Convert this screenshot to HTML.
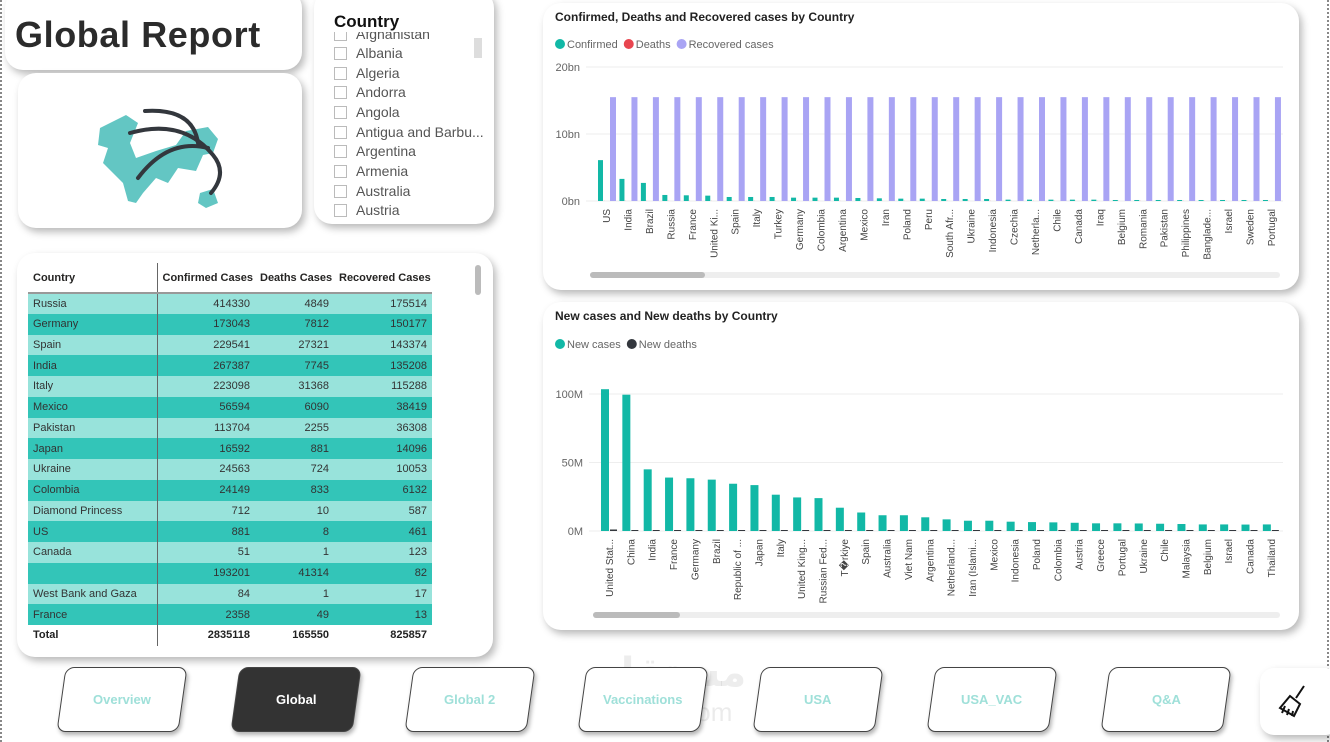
<!DOCTYPE html>
<html><head><meta charset="utf-8"><style>
*{margin:0;padding:0;box-sizing:border-box}
body{width:1330px;height:742px;background:#fff;position:relative;overflow:hidden;font-family:"Liberation Sans",sans-serif;color:#252423}
.edge{position:absolute;top:0;bottom:0;width:2px;border-left:2px dotted #888}
.card{position:absolute;background:#fff;border-radius:18px;box-shadow:3px 4px 8px rgba(0,0,0,.28)}
.sl{position:absolute;left:20px;font-size:14px;color:#555;height:20px;line-height:20px}
.sl i{display:inline-block;width:13px;height:13px;border:1px solid #bbb;vertical-align:-2px;margin-right:9px}
table{border-collapse:collapse;font-size:11px;position:absolute;left:11px;top:10px;width:404px;table-layout:fixed}
td,th{height:20.75px;padding:0 5px;white-space:nowrap;overflow:hidden}
th{font-weight:bold;text-align:right;height:30px;vertical-align:middle;border-bottom:2px solid #999}
th:first-child,td:first-child{text-align:left;border-right:1px solid #666}
tr.l td{background:#98e3db}tr.d td{background:#33c5b8}
td{text-align:right;color:#333}
tr.t td{font-weight:bold;background:#fff;color:#222}
.nav{position:absolute;top:667px;width:122px;height:65px;transform:skewX(-8deg);border:1px solid #444;border-radius:9px;background:#fff;box-shadow:2px 3px 4px rgba(0,0,0,.3);display:flex;align-items:center;justify-content:center}
.nav span{transform:skewX(8deg);font-weight:bold;font-size:13px;color:#9fe0d9}
.nav.on{background:#333}.nav.on span{color:#fff}
</style></head><body>
<div class="edge" style="left:0"></div>
<div class="edge" style="left:1327px"></div>

<div class="card" style="left:5px;top:-10px;width:297px;height:80px">
<div style="position:absolute;left:10px;top:24px;font-size:36px;font-weight:bold;color:#2b2b2b;letter-spacing:0.6px">Global Report</div></div>

<div class="card" style="left:18px;top:73px;width:284px;height:155px">
<svg width="284" height="155">
<g fill="#63c6c3"><polygon points="82,55 108,42 120,50 112,70 118,85 138,78 158,72 168,58 190,54 200,66 195,80 185,82 178,98 160,95 150,110 138,105 125,120 118,130 110,128 105,110 95,100 85,90 90,75 80,72"/><polygon points="182,120 195,116 200,130 188,135 180,130"/></g>
<g fill="none" stroke="#33373d" stroke-width="4" stroke-linecap="round"><path d="M127,38 Q175,35 180,70"/><path d="M112,60 Q165,45 195,82 Q210,100 193,120"/><path d="M120,105 Q150,65 190,75"/></g></svg></div>

<div class="card" style="left:314px;top:-10px;width:180px;height:234px;overflow:hidden">
<div style="position:absolute;left:20px;top:22px;font-size:17px;font-weight:bold;color:#111;background:#fff;z-index:2;width:140px">Country</div>
<div class="sl" style="top:34px"><i></i>Afghanistan</div>
<div class="sl" style="top:53px"><i></i>Albania</div>
<div class="sl" style="top:73px"><i></i>Algeria</div>
<div class="sl" style="top:92px"><i></i>Andorra</div>
<div class="sl" style="top:112px"><i></i>Angola</div>
<div class="sl" style="top:132px"><i></i>Antigua and Barbu...</div>
<div class="sl" style="top:151px"><i></i>Argentina</div>
<div class="sl" style="top:171px"><i></i>Armenia</div>
<div class="sl" style="top:191px"><i></i>Australia</div>
<div class="sl" style="top:210px"><i></i>Austria</div>
<div style="position:absolute;left:160px;top:48px;width:8px;height:20px;background:#ddd"></div>
</div>

<div class="card" style="left:17px;top:253px;width:476px;height:404px">
<table>
<colgroup><col style="width:129px"><col style="width:98px"><col style="width:79px"><col style="width:98px"></colgroup>
<tr><th style="text-align:left">Country</th><th>Confirmed Cases</th><th>Deaths Cases</th><th>Recovered Cases</th></tr>
<tr class="l"><td>Russia</td><td>414330</td><td>4849</td><td>175514</td></tr>
<tr class="d"><td>Germany</td><td>173043</td><td>7812</td><td>150177</td></tr>
<tr class="l"><td>Spain</td><td>229541</td><td>27321</td><td>143374</td></tr>
<tr class="d"><td>India</td><td>267387</td><td>7745</td><td>135208</td></tr>
<tr class="l"><td>Italy</td><td>223098</td><td>31368</td><td>115288</td></tr>
<tr class="d"><td>Mexico</td><td>56594</td><td>6090</td><td>38419</td></tr>
<tr class="l"><td>Pakistan</td><td>113704</td><td>2255</td><td>36308</td></tr>
<tr class="d"><td>Japan</td><td>16592</td><td>881</td><td>14096</td></tr>
<tr class="l"><td>Ukraine</td><td>24563</td><td>724</td><td>10053</td></tr>
<tr class="d"><td>Colombia</td><td>24149</td><td>833</td><td>6132</td></tr>
<tr class="l"><td>Diamond Princess</td><td>712</td><td>10</td><td>587</td></tr>
<tr class="d"><td>US</td><td>881</td><td>8</td><td>461</td></tr>
<tr class="l"><td>Canada</td><td>51</td><td>1</td><td>123</td></tr>
<tr class="d"><td></td><td>193201</td><td>41314</td><td>82</td></tr>
<tr class="l"><td>West Bank and Gaza</td><td>84</td><td>1</td><td>17</td></tr>
<tr class="d"><td>France</td><td>2358</td><td>49</td><td>13</td></tr>
<tr class="t"><td>Total</td><td>2835118</td><td>165550</td><td>825857</td></tr>
</table>
<div style="position:absolute;left:458px;top:12px;width:6px;height:30px;border-radius:3px;background:#bbb"></div>
</div>

<div class="card" style="left:543px;top:3px;width:756px;height:287px">
<svg id="c1" width="756" height="287" style="position:absolute;left:0;top:0" font-family="Liberation Sans, sans-serif"></svg></div>
<div class="card" style="left:543px;top:302px;width:756px;height:328px">
<svg id="c2" width="756" height="328" style="position:absolute;left:0;top:0" font-family="Liberation Sans, sans-serif"></svg></div>

<div style="position:absolute;left:600px;top:650px;font-size:40px;font-weight:bold;color:rgba(0,0,0,.07);font-family:'Liberation Sans','DejaVu Sans',sans-serif">مستقل</div>
<div style="position:absolute;left:585px;top:697px;font-size:26px;color:rgba(0,0,0,.08)">mostaqi.com</div>

<div class="nav" style="left:61px"><span>Overview</span></div>
<div class="nav on" style="left:235px"><span>Global</span></div>
<div class="nav" style="left:409px"><span>Global 2</span></div>
<div class="nav" style="left:582px"><span>Vaccinations</span></div>
<div class="nav" style="left:757px"><span>USA</span></div>
<div class="nav" style="left:931px"><span>USA_VAC</span></div>
<div class="nav" style="left:1105px"><span>Q&amp;A</span></div>
<div class="card" style="left:1260px;top:668px;width:80px;height:67px;border-radius:14px">
<svg width="40" height="40" style="position:absolute;left:14px;top:14px" fill="none" stroke="#111" stroke-width="2"><path d="M30,4 L22,16"/><path d="M16,14 L26,22 L20,34 L6,26 Z"/><path d="M11,24 L8,31 M15,27 L13,33 M19,29 L18,34"/></svg></div>

<script>
const c1Cats=["US","India","Brazil","Russia","France","United Ki...","Spain","Italy","Turkey","Germany","Colombia","Argentina","Mexico","Iran","Poland","Peru","South Afr...","Ukraine","Indonesia","Czechia","Netherla...","Chile","Canada","Iraq","Belgium","Romania","Pakistan","Philippines","Banglade...","Israel","Sweden","Portugal"];
const c1Confirmed=[6.1,3.3,2.7,0.9,0.85,0.8,0.6,0.6,0.6,0.5,0.5,0.5,0.45,0.4,0.35,0.35,0.3,0.3,0.3,0.2,0.2,0.2,0.2,0.2,0.15,0.15,0.15,0.15,0.15,0.15,0.15,0.15];
const c1Deaths=[0.1,0.05,0.07,0.02,0.02,0.02,0.02,0.02,0.01,0.01,0.01,0.01,0.02,0.01,0.01,0.01,0.01,0.01,0.01,0.01,0.01,0.01,0.01,0.01,0.01,0.01,0.01,0.01,0.01,0.01,0.01,0.01];
const c1Recovered=[15.5,15.5,15.5,15.5,15.5,15.5,15.5,15.5,15.5,15.5,15.5,15.5,15.5,15.5,15.5,15.5,15.5,15.5,15.5,15.5,15.5,15.5,15.5,15.5,15.5,15.5,15.5,15.5,15.5,15.5,15.5,15.5];
const c1Ticks=[0,10,20];const c1TickLabels=["0bn","10bn","20bn"];
const c2Cats=["United Stat...","China","India","France","Germany","Brazil","Republic of ...","Japan","Italy","United King...","Russian Fed...","T�rkiye","Spain","Australia","Viet Nam","Argentina","Netherland...","Iran (Islami...","Mexico","Indonesia","Poland","Colombia","Austria","Greece","Portugal","Ukraine","Chile","Malaysia","Belgium","Israel","Canada","Thailand"];
const c2NewCases=[103.5,99.5,45,39,38.5,37.5,34.5,33.5,26.5,24.5,24,17,13.5,11.5,11.5,10,8.5,7.5,7.5,6.8,6.5,6.3,6,5.6,5.6,5.5,5.3,5.1,4.8,4.8,4.7,4.8];
const c2NewDeaths=[1.1,0.3,0.5,0.2,0.2,0.7,0.1,0.1,0.2,0.2,0.4,0.1,0.1,0.1,0.1,0.1,0.1,0.1,0.3,0.2,0.1,0.1,0.1,0.1,0.1,0.1,0.1,0.1,0.1,0.1,0.1,0.1];
const c2Ticks=[0,50,100];const c2TickLabels=["0M","50M","100M"];
const NS="http://www.w3.org/2000/svg";
function mk(p,tag,a){const e=document.createElementNS(NS,tag);for(const k in a)e.setAttribute(k,a[k]);p.appendChild(e);return e;}
function txt(p,x,y,s,a){const e=mk(p,"text",Object.assign({x:x,y:y},a));e.textContent=s;return e;}
function chart(svg,o){
  const y=v=>o.y0-(v-o.min)/(o.max-o.min)*(o.y0-o.y1);
  const x=i=>o.x0+i*o.step;
  const t=txt(svg,12,18,o.title,{"font-size":"12","font-weight":"bold",fill:"#222"});
  
  let lx=12;
  o.legend.forEach(l=>{const g=mk(svg,"g",{});
    mk(g,"circle",{cx:lx+5,cy:o.ly,r:5,fill:l[1]});const tt=txt(g,lx+12,o.ly+4,l[0],{"font-size":"11",fill:"#666"});lx+=12+tt.getComputedTextLength()+6;});
  o.ticks.forEach((v,i)=>{const gl=mk(svg,"line",{x1:o.x0-12,x2:740,y1:y(v),y2:y(v),stroke:"#eee"});
    const tl=txt(svg,o.x0-18,y(v)+4,o.tickLabels[i],{"font-size":"11",fill:"#666","text-anchor":"end"});});
  o.cats.forEach((c,i)=>{
    o.series.forEach((s,j)=>{const v=s.data[i];const h=Math.max(y(0)-y(v),1);
      const r=mk(svg,"rect",{x:x(i)+s.off,y:y(0)-h,width:s.w,height:h,fill:s.color});
      });
    const lb=txt(svg,0,0,c,{"font-size":"10",fill:"#444","text-anchor":"end",transform:`translate(${x(i)+o.lblOff},${o.y0+8}) rotate(-90)`});
    });
  const sb=mk(svg,"rect",{x:o.sbx,y:o.sby,width:740-o.sbx-3,height:6,rx:3,fill:"#eee"});
  const th=mk(svg,"rect",{x:o.sbx,y:o.sby,width:o.thumb,height:6,rx:3,fill:"#bbb"});
}
chart(document.getElementById("c1"),{title:"Confirmed, Deaths and Recovered cases by Country",ly:41,
  legend:[["Confirmed","#12b8a6"],["Deaths","#e8454f"],["Recovered cases","#a9a4f4"]],
  cats:c1Cats,min:0,max:20,y0:198,y1:64,x0:55,step:21.45,lblOff:12,ticks:c1Ticks,tickLabels:c1TickLabels,
  series:[{name:"confirmed",data:c1Confirmed,color:"#12b8a6",off:0,w:5},{name:"deaths",data:c1Deaths,color:"#e8454f",off:6,w:0.1},{name:"recovered",data:c1Recovered,color:"#a9a4f4",off:12,w:6}],
  sbx:47,sby:269,thumb:115});
chart(document.getElementById("c2"),{title:"New cases and New deaths by Country",ly:42,
  legend:[["New cases","#12b8a6"],["New deaths","#33373d"]],
  cats:c2Cats,min:0,max:100,y0:229,y1:92,x0:58,step:21.35,lblOff:12,ticks:c2Ticks,tickLabels:c2TickLabels,
  series:[{name:"new-cases",data:c2NewCases,color:"#12b8a6",off:0,w:8},{name:"new-deaths",data:c2NewDeaths,color:"#33373d",off:9,w:7}],
  sbx:50,sby:310,thumb:87});
</script>
</body></html>
